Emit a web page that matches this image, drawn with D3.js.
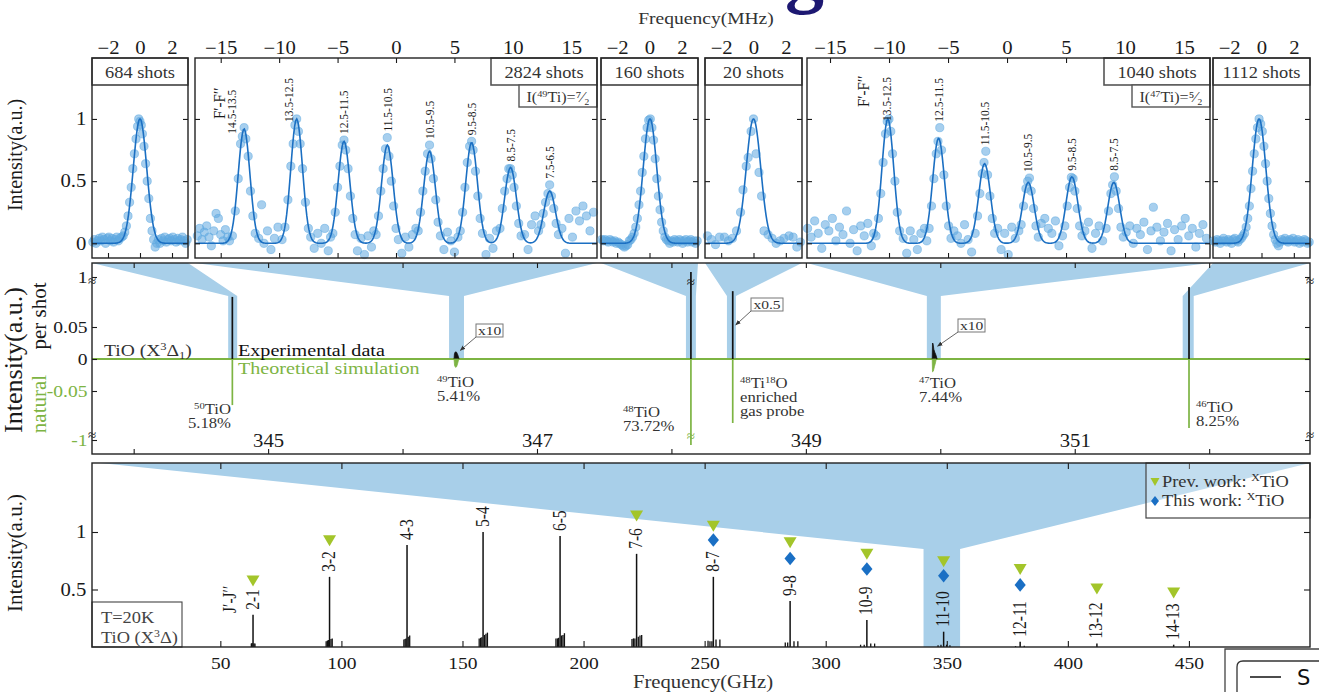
<!DOCTYPE html>
<html><head><meta charset="utf-8">
<script src="https://cdn.jsdelivr.net/npm/d3@7"></script>
<style>
html,body{margin:0;padding:0;background:#fff;}
svg{display:block;}
</style></head>
<body>
<svg id="fig" width="1319" height="692"></svg>
<script>
// ================= data =================
const slideTitle = 'Resolving the fine structure';
const shotCounts = ['684 shots', '2824 shots', '160 shots', '20 shots', '1040 shots', '1112 shots'];
const mhzTicksNarrow = [-2, 0, 2];
const mhzTicksWide = [-15, -10, -5, 0, 5, 10, 15];

// 50TiO scan (MHz offset, normalised intensity)
const scanA = [[-2.95,0.01],[-2.85,0.03],[-2.75,0.0],[-2.65,0.02],[-2.55,0.04],[-2.45,0.02],[-2.35,0.05],[-2.25,0.03],[-2.15,0.0],[-2.05,0.04],[-1.95,0.05],[-1.85,0.02],[-1.75,0.04],[-1.65,0.01],[-1.55,0.03],[-1.45,0.05],[-1.35,0.02],[-1.25,0.04],[-1.15,0.05],[-1.05,0.06],[-0.95,0.09],[-0.85,0.14],[-0.75,0.22],[-0.65,0.33],[-0.55,0.45],[-0.45,0.6],[-0.35,0.72],[-0.25,0.84],[-0.15,0.94],[-0.08,1.0],[0.0,0.98],[0.08,0.95],[0.15,0.88],[0.25,0.78],[0.35,0.64],[0.45,0.5],[0.55,0.36],[0.65,0.2],[0.75,0.1],[0.85,0.03],[0.95,-0.03],[1.05,0.0],[1.15,0.03],[1.25,0.0],[1.35,0.04],[1.45,0.02],[1.55,0.05],[1.65,0.01],[1.75,0.03],[1.85,0.04],[1.95,0.02],[2.05,0.05],[2.15,0.03],[2.25,0.01],[2.35,0.04],[2.45,0.02],[2.55,0.03],[2.65,0.05],[2.75,0.02],[2.85,0.0],[2.95,0.03]];
const fitA = {centers: [0.0], amps: [1.0], sigma: 0.42};

// 49TiO hyperfine scan
const scanB = [[-17.0,0.06],[-16.8,0.12],[-16.6,0.03],[-16.4,0.09],[-16.2,0.14],[-16.0,0.05],[-15.8,-0.02],[-15.6,0.1],[-15.4,0.24],[-15.2,0.2],[-15.0,0.07],[-14.8,0.02],[-14.6,0.11],[-14.4,0.05],
[-14.25,0.02],[-14.0,0.06],[-13.75,0.26],[-13.5,0.52],[-13.3,0.8],[-13.15,0.86],[-13.0,0.93],[-12.85,0.84],[-12.65,0.7],[-12.45,0.42],[-12.25,0.22],[-12.05,0.08],[-11.75,0.04],[-11.5,0.31],
[-11.3,0.0],[-11.0,0.1],[-10.7,-0.05],[-10.4,0.04],[-10.1,0.13],
[-9.75,0.03],[-9.5,0.13],[-9.25,0.35],[-9.0,0.62],[-8.8,0.8],[-8.65,0.95],[-8.5,1.0],[-8.35,0.9],[-8.2,0.8],[-8.0,0.6],[-7.75,0.33],[-7.5,0.12],[-7.3,0.05],
[-7.0,-0.04],[-6.7,0.08],[-6.4,0.0],[-6.1,0.12],[-5.8,-0.06],[-5.6,0.05],
[-5.4,0.08],[-5.2,0.25],[-5.0,0.45],[-4.8,0.62],[-4.6,0.79],[-4.45,0.83],[-4.3,0.75],[-4.1,0.6],[-3.9,0.38],[-3.7,0.2],[-3.5,0.07],
[-3.3,-0.06],[-3.0,0.04],[-2.7,-0.09],[-2.4,0.06],[-2.1,-0.03],[-1.9,0.1],
[-1.7,0.07],[-1.5,0.22],[-1.3,0.42],[-1.1,0.6],[-0.9,0.76],[-0.75,0.85],[-0.6,0.7],[-0.4,0.5],[-0.2,0.3],[0.0,0.12],[0.2,0.03],
[0.5,-0.08],[0.8,0.05],[1.1,-0.03],[1.4,0.07],[1.7,0.12],
[1.9,0.1],[2.1,0.25],[2.3,0.42],[2.5,0.58],[2.7,0.72],[2.87,0.79],[3.0,0.68],[3.2,0.52],[3.4,0.35],[3.6,0.17],[3.8,0.06],
[4.1,-0.05],[4.4,0.09],[4.7,0.02],[5.0,-0.07],[5.3,0.05],
[5.5,0.1],[5.7,0.25],[5.9,0.45],[6.1,0.65],[6.3,0.78],[6.47,0.82],[6.6,0.75],[6.8,0.58],[7.0,0.38],[7.2,0.2],[7.4,0.08],
[7.7,-0.09],[8.0,0.04],[8.3,-0.04],[8.6,0.1],
[8.9,0.12],[9.1,0.28],[9.3,0.42],[9.5,0.52],[9.65,0.6],[9.8,0.6],[9.95,0.55],[10.1,0.45],[10.3,0.3],[10.5,0.16],[10.7,0.06],
[11.0,0.07],[11.3,-0.05],[11.6,0.15],[11.9,0.22],[12.2,0.1],
[12.4,0.15],[12.6,0.24],[12.8,0.33],[13.0,0.4],[13.15,0.47],[13.3,0.38],[13.5,0.28],[13.7,0.16],[13.9,0.07],
[14.2,0.12],[14.5,-0.08],[14.8,0.2],[15.1,0.05],[15.4,0.26],[15.7,0.18],[16.0,0.3],[16.3,0.22],[16.6,0.1],[16.9,0.25]];
const fitB = {centers: [-13.0, -8.5, -4.45, -0.74, 2.87, 6.47, 9.8, 13.15], amps: [0.92, 1.0, 0.82, 0.79, 0.74, 0.81, 0.61, 0.42], sigma: 0.5};
const hfLabelsB = ['14.5-13.5', '13.5-12.5', '12.5-11.5', '11.5-10.5', '10.5-9.5', '9.5-8.5', '8.5-7.5', '7.5-6.5'];

// 48TiO scan
const scanC = [[-2.95,0.03],[-2.85,0.02],[-2.75,0.03],[-2.65,0.02],[-2.55,0.01],[-2.45,0.03],[-2.35,0.02],[-2.25,0.01],[-2.15,0.02],[-2.05,0.0],[-1.95,0.01],[-1.85,0.0],[-1.75,-0.01],[-1.65,-0.02],[-1.55,-0.03],[-1.45,-0.02],[-1.35,-0.01],[-1.25,0.02],[-1.15,0.03],[-1.05,0.05],[-0.95,0.08],[-0.85,0.13],[-0.75,0.2],[-0.65,0.31],[-0.55,0.42],[-0.45,0.57],[-0.35,0.7],[-0.25,0.84],[-0.15,0.93],[-0.05,0.99],[0.05,1.0],[0.15,0.93],[0.25,0.83],[0.35,0.68],[0.45,0.52],[0.55,0.38],[0.65,0.27],[0.75,0.17],[0.85,0.1],[0.95,0.05],[1.05,0.03],[1.15,0.02],[1.25,0.0],[1.35,0.02],[1.45,0.01],[1.55,0.03],[1.65,0.02],[1.75,0.01],[1.85,0.03],[1.95,0.02],[2.05,0.0],[2.15,0.02],[2.25,0.03],[2.35,0.01],[2.45,0.02],[2.55,0.03],[2.65,0.01],[2.75,0.02],[2.85,0.0],[2.95,0.02]];
const fitC = {centers: [0.03], amps: [1.0], sigma: 0.42};

// 48Ti18O scan
const scanD = [[-2.85,0.06],[-2.6,0.03],[-2.35,-0.01],[-2.1,0.05],[-1.8,0.05],[-1.55,0.02],[-1.3,0.04],[-1.05,0.1],[-0.8,0.25],[-0.65,0.43],[-0.45,0.62],[-0.33,0.69],[-0.15,0.9],[0.0,1.0],[0.16,0.72],[0.34,0.57],[0.5,0.38],[0.65,0.1],[0.9,0.07],[1.15,0.04],[1.4,0.0],[1.65,0.02],[1.88,0.04],[2.2,0.06],[2.45,0.05],[2.68,-0.03],[2.9,0.01]];
const fitD = {centers: [0.0], amps: [1.0], sigma: 0.45};

// 47TiO hyperfine scan
const scanE = [[-16.9,0.12],[-16.6,0.05],[-16.3,0.18],[-16.0,0.08],[-15.7,-0.04],[-15.4,0.15],[-15.1,0.1],[-14.8,0.2],[-14.5,0.02],[-14.2,0.13],[-13.9,0.07],[-13.6,0.26],[-13.3,0.0],[-13.0,0.11],[-12.7,-0.06],[-12.4,0.14],[-12.1,0.06],[-11.8,0.16],[-11.5,-0.02],
[-11.3,0.08],[-11.1,0.06],[-10.9,0.2],[-10.7,0.4],[-10.5,0.65],[-10.3,0.88],[-10.15,0.98],[-10.0,1.0],[-9.85,0.9],[-9.7,0.72],[-9.5,0.5],[-9.3,0.25],[-9.1,0.1],
[-8.8,0.04],[-8.5,-0.08],[-8.2,0.1],[-7.9,0.03],[-7.6,-0.05],[-7.3,0.08],[-7.0,0.12],[-6.8,0.02],
[-6.6,0.12],[-6.4,0.3],[-6.2,0.52],[-6.0,0.72],[-5.85,0.82],[-5.7,0.93],[-5.55,0.75],[-5.35,0.55],[-5.15,0.3],[-4.95,0.14],[-4.75,0.04],
[-4.5,0.1],[-4.2,0.06],[-3.9,0.0],[-3.6,0.15],[-3.3,0.03],[-3.0,-0.07],
[-2.7,0.08],[-2.5,0.22],[-2.3,0.4],[-2.1,0.56],[-1.95,0.65],[-1.8,0.74],[-1.65,0.55],[-1.45,0.38],[-1.25,0.2],[-1.05,0.08],
[-0.8,0.12],[-0.5,-0.05],[-0.2,0.08],[0.1,-0.09],[0.4,0.13],[0.7,0.04],[1.0,0.1],
[1.2,0.15],[1.4,0.3],[1.6,0.44],[1.75,0.5],[1.9,0.525],[2.05,0.42],[2.25,0.28],[2.45,0.14],[2.65,0.05],
[2.9,0.16],[3.2,0.2],[3.5,0.12],[3.8,0.08],[4.1,0.18],[4.4,-0.02],[4.7,0.06],
[4.9,0.14],[5.1,0.3],[5.3,0.45],[5.45,0.53],[5.6,0.52],[5.75,0.42],[5.95,0.28],[6.15,0.14],[6.35,0.06],
[6.6,0.1],[6.9,0.17],[7.2,-0.04],[7.5,0.08],[7.8,0.14],[8.1,0.02],
[8.4,0.12],[8.6,0.26],[8.8,0.4],[8.95,0.47],[9.1,0.535],[9.25,0.42],[9.45,0.28],[9.65,0.13],[9.85,0.05],
[10.1,0.09],[10.4,0.14],[10.7,0.0],[11.0,0.12],[11.3,0.07],[11.6,0.17],[11.9,-0.05],[12.2,0.1],[12.4,0.29],[12.7,0.13],[13.0,0.02],[13.3,0.09],[13.6,0.16],[13.9,-0.06],[14.2,0.11],[14.5,0.03],[14.8,0.14],[15.1,0.2],[15.4,0.06],[15.7,0.12],[16.0,-0.03],[16.3,0.08],[16.6,0.15],[16.9,0.04]];
const fitE = {centers: [-10.1, -5.8, -1.9, 1.8, 5.5, 9.05], amps: [1.0, 0.845, 0.64, 0.49, 0.535, 0.49], sigma: 0.5};
const hfLabelsE = ['13.5-12.5', '12.5-11.5', '11.5-10.5', '10.5-9.5', '9.5-8.5', '8.5-7.5'];

// 46TiO scan
const scanF = [[-2.95,0.02],[-2.85,0.01],[-2.75,0.03],[-2.65,0.02],[-2.55,0.0],[-2.45,0.02],[-2.35,0.04],[-2.25,0.02],[-2.15,0.01],[-2.05,0.03],[-1.95,0.02],[-1.85,0.0],[-1.75,0.03],[-1.65,0.04],[-1.55,0.02],[-1.45,0.01],[-1.35,0.03],[-1.25,0.04],[-1.15,0.06],[-1.05,0.08],[-0.95,0.13],[-0.85,0.2],[-0.75,0.3],[-0.65,0.44],[-0.55,0.58],[-0.45,0.72],[-0.35,0.84],[-0.25,0.93],[-0.15,1.0],[-0.05,0.96],[0.05,0.9],[0.15,0.78],[0.25,0.64],[0.35,0.5],[0.45,0.36],[0.55,0.24],[0.65,0.14],[0.75,0.07],[0.85,0.03],[0.95,0.0],[1.05,-0.02],[1.15,0.01],[1.25,0.03],[1.35,0.02],[1.45,0.04],[1.55,0.02],[1.65,0.01],[1.75,0.03],[1.85,0.02],[1.95,0.04],[2.05,0.01],[2.15,0.02],[2.25,0.03],[2.35,0.0],[2.45,0.02],[2.55,0.01],[2.65,0.03],[2.75,0.02],[2.85,0.0],[2.95,0.01]];
const fitF = {centers: [-0.15], amps: [1.0], sigma: 0.42};

// J = 11-10 survey around 348 GHz (GHz, intensity per shot)
const ghzTicksMid = [344, 345, 346, 347, 348, 349, 350, 351, 352];
const ghzLabelsMid = [345, 347, 349, 351];
const expSticks = [[344.734, 0.097], [348.145, 1.07], [348.456, 0.106], [351.85, 0.1125]];
const simSticks = [[344.734, -0.072], [348.145, -1.07], [348.456, -0.10], [351.85, -0.108]];
const exp49 = [[346.383,0],[346.386,0.008],[346.392,0.011],[346.400,0.011],[346.408,0.008],[346.415,0.004],[346.42,0]];
const sim49 = [[346.383,0],[346.387,-0.01],[346.394,-0.013],[346.402,-0.012],[346.41,-0.007],[346.418,0]];
const exp47 = [[349.940,0],[349.942,0.025],[349.946,0.024],[349.952,0.015],[349.96,0.01],[349.968,0.006],[349.976,0]];
const sim47 = [[349.940,0],[349.942,-0.02],[349.948,-0.019],[349.956,-0.012],[349.964,-0.006],[349.97,0]];
const bandCentersGHz = [[344.703, 344.77], [346.346, 346.457], [348.108, 348.182], [348.413, 348.48], [349.9, 350.004], [351.803, 351.885]];
const isoMass = ['50', '49', '48', '48', '47', '46'];
const isoAbund = ['5.18%', '5.41%', '73.72%', '', '7.44%', '8.25%'];
const midYTicks = [1, 0.05, 0, -0.05, -1];

// Rotational survey at T = 20 K
const jLabels = ['2-1', '3-2', '4-3', '5-4', '6-5', '7-6', '8-7', '9-8', '10-9', '11-10', '12-11', '13-12', '14-13'];
const jFreqGHz = [63.5, 95.1, 127.1, 158.5, 190.3, 221.9, 253.6, 285.3, 317.0, 348.7, 380.3, 412.0, 443.7];
const jIntensity = [0.28, 0.61, 0.887, 1.0, 0.965, 0.81, 0.61, 0.40, 0.235, 0.133, 0.046, 0.03, 0.02];
const satellites = [
  [62.8,0.03],[63.1,0.035],[63.9,0.03],[64.3,0.03],
  [93.7,0.05],[94.2,0.055],[94.6,0.06],[95.7,0.07],[96.2,0.075],
  [125.8,0.065],[126.3,0.07],[126.7,0.075],[127.6,0.09],[128.2,0.1],
  [156.9,0.075],[157.5,0.08],[158.0,0.085],[159.1,0.105],[159.7,0.115],[160.3,0.125],
  [188.6,0.075],[189.2,0.075],[189.7,0.08],[190.9,0.1],[191.5,0.105],[192.1,0.12],
  [220.0,0.07],[220.6,0.075],[221.2,0.075],[222.6,0.09],[223.3,0.1],[224.0,0.105],
  [251.4,0.055],[252.2,0.05],[253.0,0.05],[254.7,0.065],[256.3,0.065],
  [283.3,0.04],[284.3,0.04],[286.9,0.05],[288.5,0.05],
  [314.4,0.02],[315.9,0.02],[318.6,0.03],[320.2,0.03],
  [346.4,0.015],[347.6,0.02],[349.9,0.02],[351.3,0.015],
  [378.4,0.008],[382.0,0.01]
];
const prevWork = [[63.5,0.575],[95.1,0.925],[221.9,1.14],[253.6,1.05],[285.3,0.907],[317.0,0.806],[348.7,0.742],[380.3,0.675],[412.0,0.504],[443.7,0.47]];
const thisWork = [[253.6,0.93],[285.3,0.77],[317.0,0.678],[348.7,0.62],[380.3,0.54]];
const ghzTicksBottom = [50, 100, 150, 200, 250, 300, 350, 400, 450];
const bottomYTicks = [0.5, 1];

// ================= drawing =================
const SX = 1.15;
const SERIF = '"Liberation Serif","Times New Roman",serif';
const INK = '#1a1a1a';
const GREEN = '#7db443';
const LIME = '#a3c52a';
const BAND = '#a8cfe9';
const DOT = '#5ea8e0';
const FIT = '#1b6fc2';
const DIAMOND = '#1a6fc4';
const NAVY = '#1d1872';
const plain = d3.format('');

const svg = d3.select('#fig');
svg.append('rect').attr('width', 1319).attr('height', 692).attr('fill', '#fff');

const defs = svg.append('defs');
defs.append('marker').attr('id', 'arr').attr('viewBox', '0 0 10 10').attr('refX', 9).attr('refY', 5)
  .attr('markerWidth', 6).attr('markerHeight', 6).attr('orient', 'auto')
  .append('path').attr('d', 'M0,1 L10,5 L0,9 z').attr('fill', '#333');

// text helper: serif type drawn slightly wide, with sup/sub parts
function txt(p, x, y, parts, o = {}) {
  const size = o.size || 16;
  let tr = `translate(${x},${y}) scale(${o.sx ?? SX},1)`;
  if (o.rot) tr += ` rotate(${o.rot})`;
  const t = p.append('text').attr('transform', tr)
    .attr('font-size', size).attr('text-anchor', o.anchor || 'start')
    .attr('fill', o.fill || INK).attr('font-family', o.family || SERIF);
  if (o.weight) t.attr('font-weight', o.weight);
  let shift = 0;
  (Array.isArray(parts) ? parts : [parts]).forEach(pt => {
    const s = typeof pt === 'string' ? {t: pt} : pt;
    const target = s.sup !== undefined ? -0.36 * size : s.sub !== undefined ? 0.2 * size : 0;
    const ts = t.append('tspan').text(s.t ?? s.sup ?? s.sub);
    if (target !== shift) ts.attr('dy', target - shift);
    if (s.sup !== undefined || s.sub !== undefined) ts.attr('font-size', size * 0.64);
    shift = target;
  });
  return t;
}

function styleAxis(g, size) {
  g.select('.domain').remove();
  g.selectAll('.tick line').attr('stroke', INK).attr('stroke-width', 1.1);
  g.selectAll('.tick text').attr('font-family', SERIF).attr('font-size', size || 17)
    .attr('fill', INK).attr('transform', `scale(${SX},1)`);
}

// slide heading above the figure; only its lower edge falls inside the frame
{
  const t = txt(svg, 0, -2, slideTitle, {size: 78, sx: 1, weight: 'bold', fill: NAVY});
  const gAt = slideTitle.indexOf('g');
  const offset = t.node().getSubStringLength(0, gAt);
  t.attr('transform', `translate(${785 - offset},-2)`);
}

// ---------- top row: hyperfine scans ----------
const TOP_Y0 = 58, TOP_Y1 = 258;
const yTop = d3.scaleLinear().domain([-0.118, 1.49]).range([TOP_Y1, TOP_Y0]);
const gauss = (fit, f) => fit.centers.reduce((s, c, i) => s + fit.amps[i] * Math.exp(-((f - c) ** 2) / (2 * fit.sigma ** 2)), 0);

const topPanels = [
  {x0: 92,   x1: 188,  dom: [-3, 3],        ticks: mhzTicksNarrow, pts: scanA, fit: fitA, head: 'strip', yLabels: true},
  {x0: 195,  x1: 597,  dom: [-17.2, 17.2],  ticks: mhzTicksWide,   pts: scanB, fit: fitB, head: 'box', spin: '49', frac: '⁷⁄₂', hf: hfLabelsB, hfShift: [[-12, 6], [-8, 3]]},
  {x0: 601,  x1: 698,  dom: [-3, 3],        ticks: mhzTicksNarrow, pts: scanC, fit: fitC, head: 'strip'},
  {x0: 705,  x1: 802,  dom: [-3, 3],        ticks: mhzTicksNarrow, pts: scanD, fit: fitD, head: 'strip'},
  {x0: 807,  x1: 1210, dom: [-16.95, 17.2], ticks: mhzTicksWide,   pts: scanE, fit: fitE, head: 'box', spin: '47', frac: '⁵⁄₂', hf: hfLabelsE, hfShift: [[-1, 2]]},
  {x0: 1213, x1: 1310, dom: [-3, 3],        ticks: mhzTicksNarrow, pts: scanF, fit: fitF, head: 'strip'}
];

// ---------- middle: isotopologue survey ----------
const MID_Y0 = 263, MID_Y1 = 454, NECK_Y = 296;
const xMid = d3.scaleLinear().domain([343.69, 352.75]).range([92, 1310]);
const yMid = d3.scaleLinear().domain([-1.2, -1, -0.12, 0.12, 1, 1.2]).range([MID_Y1, 440, 435.8, 282.2, 277, MID_Y0]);

// ---------- bottom: rotational survey ----------
const BOT_Y0 = 463, BOT_Y1 = 647;
const xBot = d3.scaleLinear().domain([-3, 500]).range([92, 1310]);
const yBot = d3.scaleLinear().domain([0, 1.6]).range([BOT_Y1, BOT_Y0]);

// connecting bands (drawn first, beneath everything)
const bandLayer = svg.append('g');
topPanels.forEach((p, i) => {
  const [lo, hi] = bandCentersGHz[i];
  const pts = [[p.x0, MID_Y0], [p.x1, MID_Y0], [xMid(hi), NECK_Y], [xMid(hi), yMid(0)], [xMid(lo), yMid(0)], [xMid(lo), NECK_Y]];
  bandLayer.append('path').attr('d', d3.line()(pts) + 'Z').attr('fill', BAND);
});
{
  const lo = 340.4, hi = 355.5, neck = 0.852;
  const pts = [[100, BOT_Y0], [1310, BOT_Y0], [xBot(hi), yBot(neck)], [xBot(hi), BOT_Y1], [xBot(lo), BOT_Y1], [xBot(lo), yBot(neck)]];
  bandLayer.append('path').attr('d', d3.line()(pts) + 'Z').attr('fill', BAND);
}

// ---- top panels ----
topPanels.forEach((p, i) => {
  const x = d3.scaleLinear().domain(p.dom).range([p.x0, p.x1]);
  const g = svg.append('g');
  g.selectAll('circle').data(p.pts).join('circle')
    .attr('cx', d => x(d[0])).attr('cy', d => yTop(d[1])).attr('r', 4.1)
    .attr('fill', DOT).attr('fill-opacity', 0.55).attr('stroke', DOT).attr('stroke-opacity', 0.75).attr('stroke-width', 0.7);
  const n = 400;
  const samples = d3.range(n).map(k => p.dom[0] + k * (p.dom[1] - p.dom[0]) / (n - 1));
  g.append('path').attr('d', d3.line().x(f => x(f)).y(f => yTop(gauss(p.fit, f)))(samples))
    .attr('fill', 'none').attr('stroke', FIT).attr('stroke-width', 1.6);

  // axes with inward ticks
  const at = g.append('g').attr('transform', `translate(0,${TOP_Y0})`)
    .call(d3.axisTop(x).tickValues(p.ticks).tickSize(-5).tickPadding(4).tickFormat(plain));
  styleAxis(at, 18);
  const ab = g.append('g').attr('transform', `translate(0,${TOP_Y1})`)
    .call(d3.axisBottom(x).tickValues(p.ticks).tickSize(-5).tickFormat(''));
  styleAxis(ab);
  const al = g.append('g').attr('transform', `translate(${p.x0},0)`)
    .call(d3.axisLeft(yTop).tickValues([0, 0.5, 1]).tickSize(-5).tickPadding(5).tickFormat(p.yLabels ? plain : ''));
  styleAxis(al, 18);
  const ar = g.append('g').attr('transform', `translate(${p.x1},0)`)
    .call(d3.axisRight(yTop).tickValues([0, 0.5, 1]).tickSize(-5).tickFormat(''));
  styleAxis(ar);

  // hyperfine labels
  if (p.hf) {
    txt(g, x(p.fit.centers[0]) - 19, i === 1 ? 119 : 107, ['F′-F′′'], {rot: -90, size: 15});
    p.hf.forEach((lab, k) => {
      const c = p.fit.centers[k];
      const near = p.pts.filter(d => Math.abs(d[0] - c) < 0.6).map(d => d[1]);
      const top = Math.max(p.fit.amps[k], d3.max(near) || 0);
      const sh = p.hfShift[k] || [0, -6];
      txt(g, x(c) + 4.2 + sh[0], yTop(top) + sh[1], lab, {rot: -90, size: 11.5});
    });
  }

  // shot-count headers
  if (p.head === 'strip') {
    g.append('rect').attr('x', p.x0).attr('y', TOP_Y0).attr('width', p.x1 - p.x0).attr('height', 27)
      .attr('fill', '#fff').attr('stroke', '#555').attr('stroke-width', 1.4);
    g.append('line').attr('x1', p.x0).attr('x2', p.x1).attr('y1', TOP_Y0 + 27).attr('y2', TOP_Y0 + 27)
      .attr('stroke', '#666').attr('stroke-width', 2.2);
    txt(g, (p.x0 + p.x1) / 2, TOP_Y0 + 20, shotCounts[i], {anchor: 'middle', size: 16, fill: '#333'});
  } else {
    g.append('rect').attr('x', p.x1 - 106).attr('y', TOP_Y0).attr('width', 106).attr('height', 27)
      .attr('fill', '#fff').attr('stroke', '#555').attr('stroke-width', 1.6);
    txt(g, p.x1 - 53, TOP_Y0 + 20, shotCounts[i], {anchor: 'middle', size: 16, fill: '#333'});
    g.append('rect').attr('x', p.x1 - 78).attr('y', TOP_Y0 + 27).attr('width', 78).attr('height', 22)
      .attr('fill', '#fff').attr('stroke', '#555').attr('stroke-width', 1.4);
    txt(g, p.x1 - 39, TOP_Y0 + 44, ['I(', {sup: p.spin}, 'Ti)=', p.frac], {anchor: 'middle', size: 14, fill: '#333'});
  }
  g.append('rect').attr('x', p.x0).attr('y', TOP_Y0).attr('width', p.x1 - p.x0).attr('height', TOP_Y1 - TOP_Y0)
    .attr('fill', 'none').attr('stroke', '#222').attr('stroke-width', 1.4);
});
txt(svg, 22, 155, 'Intensity(a.u.)', {rot: -90, anchor: 'middle', size: 20, sx: 1.05});
txt(svg, 706, 24, 'Frequency(MHz)', {anchor: 'middle', size: 17, fill: '#333'});

// ---- middle panel ----
{
  const g = svg.append('g');
  // zero line and simulation (green, downward)
  g.append('line').attr('x1', 92).attr('x2', 1310).attr('y1', yMid(0)).attr('y2', yMid(0))
    .attr('stroke', GREEN).attr('stroke-width', 1.8);
  g.selectAll('line.sim').data(simSticks).join('line').attr('class', 'sim')
    .attr('x1', d => xMid(d[0])).attr('x2', d => xMid(d[0])).attr('y1', yMid(0)).attr('y2', d => yMid(d[1]))
    .attr('stroke', GREEN).attr('stroke-width', 1.7);
  g.selectAll('line.exp').data(expSticks).join('line').attr('class', 'exp')
    .attr('x1', d => xMid(d[0])).attr('x2', d => xMid(d[0])).attr('y1', yMid(0)).attr('y2', d => yMid(d[1]))
    .attr('stroke', '#111').attr('stroke-width', 1.7);
  const blob = d3.line().x(d => xMid(d[0])).y(d => yMid(d[1]));
  [[exp49, '#111'], [exp47, '#111'], [sim49, GREEN], [sim47, GREEN]].forEach(([d, c]) =>
    g.append('path').attr('d', blob(d) + 'Z').attr('fill', c).attr('stroke', c).attr('stroke-width', 0.8));

  // axes
  const at = g.append('g').attr('transform', `translate(0,${MID_Y0})`)
    .call(d3.axisTop(xMid).tickValues(ghzTicksMid).tickSize(-5).tickFormat(''));
  styleAxis(at);
  const ab = g.append('g').attr('transform', `translate(0,${MID_Y1})`)
    .call(d3.axisBottom(xMid).tickValues(ghzTicksMid).tickSize(-5)
      .tickFormat(d => ghzLabelsMid.includes(d) ? d : ''));
  styleAxis(ab, 18);
  ab.selectAll('.tick text').attr('y', -7).attr('dy', 0);
  const al = g.append('g').attr('transform', 'translate(92,0)')
    .call(d3.axisLeft(yMid).tickValues(midYTicks).tickSize(-5).tickPadding(4)
      .tickFormat(d => d < 0 ? '-' + Math.abs(d) : String(d)));
  styleAxis(al, 17);
  al.selectAll('.tick text').attr('dy', '0.34em').attr('fill', d => d < 0 ? GREEN : INK);
  const ar = g.append('g').attr('transform', 'translate(1310,0)')
    .call(d3.axisRight(yMid).tickValues(midYTicks).tickSize(-5).tickFormat(''));
  styleAxis(ar);

  // axis breaks
  [[92, 286, INK], [92, 440, INK], [1310, 286, INK], [1310, 440, INK],
   [xMid(348.145), 287, INK], [xMid(348.145), 441, GREEN]].forEach(([bx, by, c]) =>
    txt(g, bx, by, '≈', {anchor: 'middle', size: 15, fill: c, sx: 1}));

  g.append('rect').attr('x', 92).attr('y', MID_Y0).attr('width', 1310 - 92).attr('height', MID_Y1 - MID_Y0)
    .attr('fill', 'none').attr('stroke', '#222').attr('stroke-width', 1.4);

  // legend-like captions
  txt(g, 104, 356, ['TiO (X', {sup: '3'}, 'Δ', {sub: '1'}, ')'], {size: 17, fill: '#333'});
  txt(g, 238, 356, 'Experimental data', {size: 17.5, fill: '#111'});
  txt(g, 238, 374, 'Theoretical simulation', {size: 17.5, fill: GREEN});

  // isotopologue labels
  const isoText = (x, y, lines, anchor) => lines.forEach((ln, k) => txt(g, x, y + k * 14, ln, {size: 14.5, anchor, fill: '#333'}));
  isoText(231, 414, [[{sup: isoMass[0]}, 'TiO'], [isoAbund[0]]], 'end');
  isoText(437, 387, [[{sup: isoMass[1]}, 'TiO'], [isoAbund[1]]], 'start');
  isoText(623, 417, [[{sup: isoMass[2]}, 'TiO'], [isoAbund[2]]], 'start');
  isoText(740, 388, [[{sup: isoMass[3]}, 'Ti', {sup: '18'}, 'O'], ['enriched'], ['gas probe']], 'start');
  isoText(919, 388, [[{sup: isoMass[4]}, 'TiO'], [isoAbund[4]]], 'start');
  isoText(1196, 412, [[{sup: isoMass[5]}, 'TiO'], [isoAbund[5]]], 'start');

  // scale-factor callouts
  const callout = (bx, by, w, label, tx, ty) => {
    g.append('rect').attr('x', bx).attr('y', by).attr('width', w).attr('height', 13)
      .attr('fill', '#fff').attr('stroke', '#777').attr('stroke-width', 1);
    txt(g, bx + w / 2, by + 11, label, {anchor: 'middle', size: 13.5, fill: '#333'});
    g.append('line').attr('x1', bx).attr('y1', by + 13).attr('x2', tx).attr('y2', ty)
      .attr('stroke', '#555').attr('stroke-width', 0.9).attr('marker-end', 'url(#arr)');
  };
  callout(476, 324, 27, 'x10', xMid(346.40) + 4, yMid(0.012) - 1);
  callout(751, 298, 32, 'x0.5', xMid(348.456) + 3, 325);
  callout(958, 319, 27, 'x10', xMid(349.95) + 4, yMid(0.02));

  txt(g, 22, 360, 'Intensity(a.u.)', {rot: -90, anchor: 'middle', size: 26, sx: 0.95});
  txt(g, 46, 316, 'per shot', {rot: -90, anchor: 'middle', size: 21, sx: 1.0});
  txt(g, 46, 404, 'natural', {rot: -90, anchor: 'middle', size: 21, sx: 1.0, fill: GREEN});
}

// ---- bottom panel ----
{
  const g = svg.append('g');
  g.selectAll('line.sat').data(satellites).join('line').attr('class', 'sat')
    .attr('x1', d => xBot(d[0])).attr('x2', d => xBot(d[0])).attr('y1', BOT_Y1).attr('y2', d => yBot(d[1]))
    .attr('stroke', '#111').attr('stroke-width', 1.3);
  g.selectAll('line.main').data(jFreqGHz).join('line').attr('class', 'main')
    .attr('x1', d => xBot(d)).attr('x2', d => xBot(d)).attr('y1', BOT_Y1).attr('y2', (d, i) => yBot(jIntensity[i]))
    .attr('stroke', '#111').attr('stroke-width', 1.5);
  jLabels.forEach((lab, i) => txt(g, xBot(jFreqGHz[i]) + 5.5, yBot(jIntensity[i]) - 5, lab, {rot: -90, size: 15.5}));
  txt(g, xBot(jFreqGHz[0]) - 17, 613, 'J′-J′′', {rot: -90, size: 15.5});

  const tri = 'M-6.5,-5.5L6.5,-5.5L0,5.5Z';
  const dia = 'M0,-6.8L5.6,0L0,6.8L-5.6,0Z';
  g.selectAll('path.prev').data(prevWork).join('path').attr('class', 'prev')
    .attr('d', tri).attr('transform', d => `translate(${xBot(d[0])},${yBot(d[1])})`).attr('fill', LIME);
  g.selectAll('path.this').data(thisWork).join('path').attr('class', 'this')
    .attr('d', dia).attr('transform', d => `translate(${xBot(d[0])},${yBot(d[1])})`).attr('fill', DIAMOND);

  const at = g.append('g').attr('transform', `translate(0,${BOT_Y0})`)
    .call(d3.axisTop(xBot).tickValues(ghzTicksBottom).tickSize(-6).tickFormat(''));
  styleAxis(at);
  const ab = g.append('g').attr('transform', `translate(0,${BOT_Y1})`)
    .call(d3.axisBottom(xBot).tickValues(ghzTicksBottom).tickSize(-6).tickPadding(10).tickFormat(plain));
  styleAxis(ab, 17);
  const al = g.append('g').attr('transform', 'translate(92,0)')
    .call(d3.axisLeft(yBot).tickValues(bottomYTicks).tickSize(-6).tickPadding(5).tickFormat(plain));
  styleAxis(al, 18);
  const ar = g.append('g').attr('transform', 'translate(1310,0)')
    .call(d3.axisRight(yBot).tickValues(bottomYTicks).tickSize(-6).tickFormat(''));
  styleAxis(ar);

  // legend
  g.append('rect').attr('x', 1146).attr('y', BOT_Y0).attr('width', 164).attr('height', 55)
    .attr('fill', '#fff').attr('fill-opacity', 0.3).attr('stroke', '#444').attr('stroke-width', 1.2);
  g.append('path').attr('d', 'M-4.5,-4L4.5,-4L0,4Z').attr('transform', 'translate(1155,482)').attr('fill', LIME);
  g.append('path').attr('d', 'M0,-5L4,0L0,5L-4,0Z').attr('transform', 'translate(1155,501)').attr('fill', DIAMOND);
  txt(g, 1162, 487, ['Prev. work: ', {sup: 'X'}, 'TiO'], {size: 16, fill: '#333'});
  txt(g, 1162, 506, ['This work: ', {sup: 'X'}, 'TiO'], {size: 16, fill: '#333'});

  // conditions box
  g.append('rect').attr('x', 92).attr('y', 602).attr('width', 90).attr('height', BOT_Y1 - 602)
    .attr('fill', '#fff').attr('stroke', '#444').attr('stroke-width', 1.1);
  txt(g, 101, 623, 'T=20K', {size: 16, fill: '#444'});
  txt(g, 101, 643, ['TiO (X', {sup: '3'}, 'Δ)'], {size: 16, fill: '#444'});

  g.append('rect').attr('x', 92).attr('y', BOT_Y0).attr('width', 1310 - 92).attr('height', BOT_Y1 - BOT_Y0)
    .attr('fill', 'none').attr('stroke', '#222').attr('stroke-width', 1.4);

  txt(g, 22, 553, 'Intensity(a.u.)', {rot: -90, anchor: 'middle', size: 21, sx: 1.0});
  txt(g, 703, 688, 'Frequency(GHz)', {anchor: 'middle', size: 18, fill: '#333'});

  // neighbouring inset, cut by the frame edge
  g.append('path').attr('d', 'M1225,700V649H1330').attr('fill', 'none').attr('stroke', '#444').attr('stroke-width', 1.3);
  g.append('path').attr('d', 'M1237,700V667Q1237,661 1243,661H1330').attr('fill', 'none').attr('stroke', '#333').attr('stroke-width', 1.3);
  g.append('line').attr('x1', 1250).attr('x2', 1281).attr('y1', 677).attr('y2', 677).attr('stroke', '#111').attr('stroke-width', 1.5);
  txt(g, 1297, 685, 'S', {size: 21, family: '"DejaVu Sans",sans-serif', sx: 1, fill: '#111'});
}
</script>
</body></html>
